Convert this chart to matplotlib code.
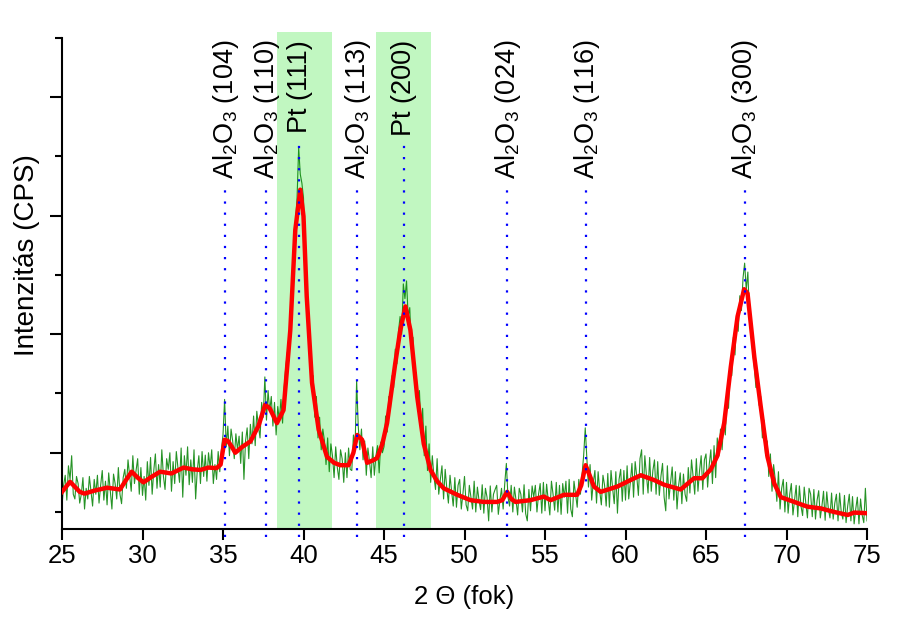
import numpy as np
import matplotlib
matplotlib.use("Agg")
import matplotlib.pyplot as plt
from matplotlib.patches import Rectangle

plt.rcParams["font.family"] = ["Liberation Sans", "DejaVu Sans"]
plt.rcParams["mathtext.fontset"] = "custom"
plt.rcParams["mathtext.rm"] = "Liberation Sans"
plt.rcParams["mathtext.it"] = "Liberation Sans:italic"

# ---- data (arbitrary intensity units) ----
red_x = [25.0, 25.5, 26.1, 26.4, 27.0, 27.8, 28.6, 29.0, 29.33, 29.7, 30.06, 30.6, 31.1, 31.8,
         32.55, 33.1, 33.6, 34.1, 34.6, 34.85, 35.1, 35.3, 35.55, 35.76, 36.2, 36.7, 37.2, 37.62,
         37.9, 38.35, 38.76, 39.18, 39.49, 39.8, 40.0, 40.2, 40.53, 40.94, 41.46, 41.9, 42.29, 42.8,
         43.1, 43.33, 43.64, 43.95, 44.3, 44.57, 44.9, 45.19, 45.7, 46.0, 46.33, 46.64, 47.06, 47.47,
         47.89, 48.3, 48.71, 49.55, 50.37, 51.2, 52.03, 52.35, 52.65, 52.9, 53.17, 54.1, 54.93, 55.35,
         56.18, 57.0, 57.25, 57.52, 57.8, 58.04, 58.46, 59.5, 60.32, 60.95, 61.77, 62.4, 63.43, 64.26,
         64.78, 65.3, 65.71, 66.13, 66.54, 66.96, 67.37, 67.58, 68.0, 68.4, 68.82, 69.24, 69.65, 70.48,
         71.3, 72.14, 72.97, 73.8, 74.2, 75.0]
red_y = [0.34, 0.51, 0.34, 0.31, 0.36, 0.41, 0.38, 0.55, 0.68, 0.58, 0.50, 0.60, 0.68, 0.65,
         0.75, 0.72, 0.71, 0.75, 0.74, 0.80, 1.22, 1.20, 1.10, 1.00, 1.10, 1.19, 1.45, 1.81,
         1.75, 1.50, 1.72, 3.07, 4.76, 5.44, 4.99, 3.64, 2.18, 1.39, 0.93, 0.83, 0.79, 0.79,
         1.00, 1.30, 1.22, 0.83, 0.87, 0.91, 1.15, 1.50, 2.51, 3.05, 3.47, 3.07, 1.95, 1.15,
         0.71, 0.52, 0.40, 0.29, 0.20, 0.17, 0.17, 0.20, 0.34, 0.22, 0.17, 0.20, 0.26, 0.20,
         0.29, 0.29, 0.45, 0.79, 0.60, 0.43, 0.34, 0.43, 0.54, 0.62, 0.54, 0.46, 0.38, 0.57,
         0.57, 0.72, 0.95, 1.50, 2.45, 3.30, 3.76, 3.69, 2.62, 1.78, 0.93, 0.48, 0.25, 0.17,
         0.09, 0.06, 0.00, -0.05, -0.01, -0.02]

green_start = 25.0
green_step = 0.1
green_y = [
    0.10, 0.45, 0.62, 0.20, 0.78, 0.55, 0.95, 0.30, 0.22, 0.60,   # 25
    0.48, 0.15, 0.30, 0.58, 0.05, 0.40, 0.22, 0.60, 0.35, 0.10,   # 26
    0.55, 0.30, 0.62, 0.15, 0.45, 0.70, 0.20, 0.52, 0.12, 0.66,   # 27
    0.35, 0.05, 0.64, 0.48, 0.22, 0.75, 0.30, 0.14, 0.58, 0.72,   # 28
    0.40, 0.88, 0.62, 0.35, 0.95, 0.48, 0.70, 0.90, 0.30, 0.75,   # 29
    0.28, 0.60, 0.20, 0.85, 0.45, 0.92, 0.30, 0.70, 0.98, 0.40,   # 30
    0.80, 0.42, 1.05, 0.60, 0.38, 0.90, 0.72, 1.00, 0.35, 0.85,   # 31
    0.48, 1.02, 0.75, 0.50, 1.08, 0.25, 0.95, 0.62, 1.10, 0.46,   # 32
    0.88, 0.50, 1.05, 0.22, 0.70, 0.95, 0.48, 1.02, 0.60, 0.96,   # 33
    0.52, 1.00, 0.75, 1.05, 0.48, 0.80, 0.55, 1.02, 0.68, 1.05,   # 34
    1.30, 1.90, 1.10, 1.45, 0.95, 1.40, 1.20, 0.90, 1.32, 1.05,   # 35
    1.28, 0.82, 1.35, 0.55, 1.20, 1.42, 0.90, 1.48, 1.15, 1.62,   # 36
    1.12, 1.70, 1.45, 1.25, 1.85, 1.60, 2.28, 1.55, 2.05, 1.70,   # 37
    1.95, 1.45, 1.85, 1.30, 1.78, 1.55, 1.90, 1.50, 2.10, 2.45,   # 38
    2.70, 2.55, 3.40, 3.60, 4.50, 4.90, 5.30, 6.15, 5.70, 5.55,   # 39
    5.30, 4.10, 3.95, 3.00, 2.95, 2.10, 2.30, 1.60, 1.95, 1.25,   # 40
    1.60, 1.05, 1.40, 1.20, 0.80, 1.25, 0.68, 1.15, 0.95, 0.58,   # 41
    1.10, 0.75, 0.55, 1.05, 0.90, 0.50, 1.00, 0.58, 1.08, 0.72,   # 42
    0.70, 1.30, 1.05, 2.22, 1.45, 1.05, 1.40, 0.88, 1.20, 0.62,   # 43
    1.08, 0.85, 0.58, 1.10, 0.62, 0.95, 1.12, 0.66, 1.18, 1.00,   # 44
    1.10, 1.62, 1.35, 1.95, 1.75, 2.30, 2.10, 2.75, 2.50, 3.05,   # 45
    3.30, 3.00, 3.85, 3.60, 3.90, 3.30, 3.45, 2.75, 2.95, 2.20,   # 46
    2.35, 1.70, 2.05, 1.40, 1.75, 0.95, 1.45, 0.70, 1.15, 0.50,   # 47
    0.95, 0.60, 0.38, 0.90, 0.30, 0.55, 0.78, 0.22, 0.72, 0.40,   # 48
    0.15, 0.62, 0.35, 0.10, 0.58, 0.08, 0.45, 0.55, 0.05, 0.30,   # 49
    0.60, 0.12, 0.02, 0.45, 0.25, 0.05, 0.52, 0.00, 0.42, 0.20,   # 50
    0.04, 0.46, -0.02, 0.40, 0.25, -0.15, 0.44, 0.00, 0.30, 0.38,  # 51
    0.45, -0.04, 0.20, 0.40, 0.05, 0.48, 0.82, 0.25, 0.10, 0.45,  # 52
    0.00, 0.42, 0.20, -0.05, 0.40, 0.30, 0.00, 0.46, -0.03, -0.15,  # 53
    0.38, 0.02, 0.44, 0.25, 0.45, 0.00, 0.30, 0.48, -0.02, 0.50,  # 54
    0.02, 0.47, 0.20, -0.05, 0.52, 0.30, 0.03, 0.50, 0.00, 0.45,  # 55
    -0.04, 0.48, 0.25, 0.52, -0.02, 0.55, 0.05, -0.08, 0.52, 0.30,  # 56
    0.08, 0.55, 0.30, 0.62, 0.95, 1.42, 0.90, 0.42, 0.80, 0.20,   # 57
    0.50, 0.70, 0.15, 0.68, 0.35, 0.12, 0.62, 0.45, 0.10, 0.65,   # 58
    0.08, 0.70, 0.40, 0.14, 0.68, -0.02, 0.55, 0.72, 0.18, 0.70,  # 59
    0.20, 0.78, 0.22, 0.50, 0.82, 0.25, 0.85, 0.60, 0.28, 0.90,   # 60
    1.05, 0.30, 0.95, 0.62, 0.32, 0.92, 0.35, 0.70, 0.88, 0.30,   # 61
    0.85, 0.28, 0.60, 0.82, 0.25, 0.02, 0.78, 0.22, 0.50, 0.76,   # 62
    0.20, 0.68, 0.05, 0.45, 0.66, 0.14, 0.64, 0.30, 0.18, 0.75,   # 63
    0.32, 0.88, 0.60, 0.30, 0.90, 0.35, 0.70, 0.95, 0.38, 0.88,   # 64
    0.98, 0.42, 0.80, 1.05, 0.48, 1.12, 0.58, 1.25, 0.95, 1.40,   # 65
    1.05, 1.55, 1.30, 1.95, 1.75, 2.45, 2.30, 2.95, 2.65, 3.30,   # 66
    3.05, 3.65, 3.40, 3.95, 4.20, 3.75, 4.05, 3.30, 3.10, 2.70,   # 67
    2.45, 2.10, 2.35, 1.80, 1.95, 1.25, 1.55, 0.95, 1.20, 0.60,   # 68
    0.98, 0.35, 0.80, 0.55, 0.18, 0.68, 0.05, 0.40, 0.55, 0.00,   # 69
    0.50, -0.02, 0.30, 0.48, -0.05, 0.20, 0.45, -0.08, 0.44, 0.10,  # 70
    -0.06, 0.42, 0.15, -0.10, 0.40, 0.30, -0.08, 0.38, -0.12, 0.20,  # 71
    0.36, -0.10, 0.10, 0.35, -0.14, 0.34, 0.05, -0.10, 0.32, -0.12,  # 72
    0.15, 0.30, -0.15, 0.32, 0.00, -0.12, 0.28, -0.18, 0.10, 0.30,  # 73
    -0.15, 0.26, -0.20, 0.05, 0.25, -0.20, 0.22, -0.05, -0.18, 0.40,  # 74
    -0.15,                                                          # 75
]

peak_pos = [35.12, 37.68, 39.72, 43.35, 46.22, 52.64, 57.56, 67.40]
peak_labels = [r"Al$_\mathregular{2}$O$_\mathregular{3}$ (104)",
               r"Al$_\mathregular{2}$O$_\mathregular{3}$ (110)",
               "Pt (111)",
               r"Al$_\mathregular{2}$O$_\mathregular{3}$ (113)",
               "Pt (200)",
               r"Al$_\mathregular{2}$O$_\mathregular{3}$ (024)",
               r"Al$_\mathregular{2}$O$_\mathregular{3}$ (116)",
               r"Al$_\mathregular{2}$O$_\mathregular{3}$ (300)"]
peak_is_pt = [False, False, True, False, True, False, False, False]
pt_bands = [(38.38, 41.75), (44.5, 47.95)]
x_ticks = [25, 30, 35, 40, 45, 50, 55, 60, 65, 70, 75]

# ---- figure ----
W, H = 898, 619
fig = plt.figure(figsize=(W / 100, H / 100), dpi=100)
ax = fig.add_axes([62 / W, (H - 529) / H, (867 - 62) / W, (529 - 38) / H])

y_lo, y_hi = -0.287, 8.0
ax.set_xlim(25, 75)
ax.set_ylim(y_lo, y_hi)

for x0, x1 in pt_bands:
    ax.add_patch(Rectangle((x0, y_lo), x1 - x0, 8.1 - y_lo, facecolor="#c1f7c1",
                           edgecolor="none", zorder=0, clip_on=False))

gx = green_start + green_step * np.arange(len(green_y))
ax.plot(gx, green_y, color="#008000", lw=0.8, alpha=0.85, zorder=2)
ax.plot(red_x, red_y, color="#ff0000", lw=3.2, zorder=3, solid_joinstyle="round")

for pos, lab, is_pt in zip(peak_pos, peak_labels, peak_is_pt):
    top = 6.2 if is_pt else 5.55
    ax.plot([pos, pos], [-0.42, top], color="#0000ff", lw=1.6,
            linestyle=(0, (1, 4)), zorder=4, clip_on=False)
    ax.text(pos + 0.05, 7.97, lab, rotation=90, ha="center", va="top",
            fontsize=19.5, zorder=5)

for s in ["top", "right"]:
    ax.spines[s].set_visible(False)
for s in ["left", "bottom"]:
    ax.spines[s].set_linewidth(1.5)

ax.set_xticks(x_ticks)
ax.set_xticklabels([str(t) for t in x_ticks])
ax.set_yticks([1, 3, 5, 7])
ax.set_yticks([0, 2, 4, 6, 8], minor=True)
ax.set_yticklabels([])
ax.tick_params(axis="x", which="major", direction="out", length=8, width=1.5,
               labelsize=18.5, pad=3)
ax.tick_params(axis="y", which="major", direction="out", length=9, width=1.5)
ax.tick_params(axis="y", which="minor", direction="out", length=5, width=1.5)

ax.set_xlabel("2 Θ (fok)", fontsize=18.5, labelpad=12)
ax.set_ylabel("Intenzitás (CPS)", fontsize=20)
ax.yaxis.set_label_coords(-0.027, 0.558)

fig.savefig("out.png", dpi=100)
